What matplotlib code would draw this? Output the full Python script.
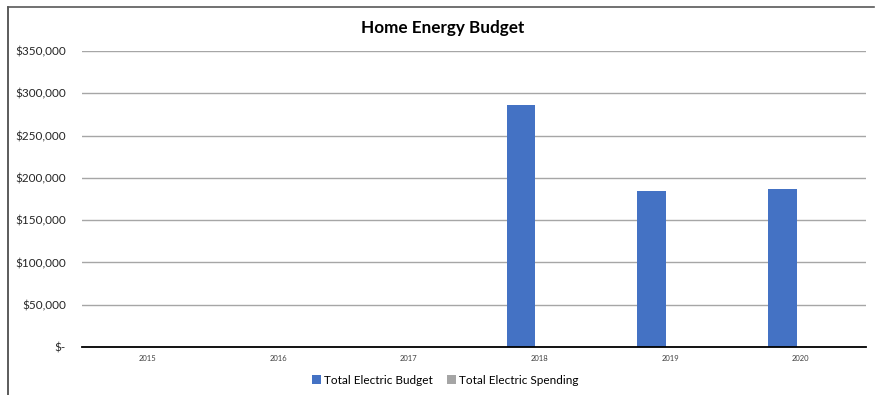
import matplotlib
matplotlib.use("Agg")
import matplotlib.pyplot as plt
from matplotlib.lines import Line2D
from matplotlib.ticker import FuncFormatter
import numpy as np

plt.rcParams['font.family'] = ['Lato', 'DejaVu Sans']

years = ["2015", "2016", "2017", "2018", "2019", "2020"]
electric_budget = [0, 0, 0, 286000, 185000, 187000]
electric_spending = [0, 0, 0, 0, 0, 0]
y_ticks = [0, 50000, 100000, 150000, 200000, 250000, 300000, 350000]

fig = plt.figure(figsize=(8.75, 3.95), dpi=100)
ax = fig.add_axes([82 / 875, 1 - 347 / 395, 784 / 875, 296 / 395])

x = np.arange(len(years))
w = 0.22
ax.bar(x - 0.14, electric_budget, width=w, color='#4472C4', label='Total Electric Budget', zorder=3)
ax.bar(x + 0.14, electric_spending, width=w, color='#A5A5A5', label='Total Electric Spending', zorder=3)

ax.set_xlim(-0.5, len(years) - 0.5)
ax.set_ylim(0, 350000)
ax.set_yticks(y_ticks)


def money(v, pos):
    return '$-' if v == 0 else f'${v:,.0f}'


ax.yaxis.set_major_formatter(FuncFormatter(money))
ax.set_xticks(x)
ax.set_xticklabels(years, fontsize=5.5, color='#404040')
ax.tick_params(axis='y', length=0, pad=11.5, labelsize=8.5, labelcolor='#262626')
ax.tick_params(axis='x', length=0, pad=6)

ax.grid(axis='y', color='#a6a6a6', linewidth=1, zorder=0)
for s in ['top', 'right', 'left']:
    ax.spines[s].set_visible(False)
ax.spines['bottom'].set_color('black')
ax.spines['bottom'].set_linewidth(1.3)
ax.spines['bottom'].set_zorder(4)

fig.text(443 / 875, 1 - 28 / 395, 'Home Energy Budget', ha='center', va='center',
         fontsize=12.3, fontweight='bold', color='black')

handles, labels = ax.get_legend_handles_labels()
fig.legend(handles, labels, loc='center', bbox_to_anchor=(445 / 875, 1 - 380 / 395),
           ncol=2, frameon=False, fontsize=8.5, handlelength=0.8, handleheight=0.8,
           handletextpad=0.2, columnspacing=1.2)

# chart border
fig.add_artist(Line2D([8 / 875, 8 / 875], [0, 1 - 7 / 395], color='#404040', linewidth=1.2))
fig.add_artist(Line2D([8 / 875, 874 / 875], [1 - 7 / 395, 1 - 7 / 395], color='#595959', linewidth=1.2))

fig.savefig('out.png', dpi=100)
